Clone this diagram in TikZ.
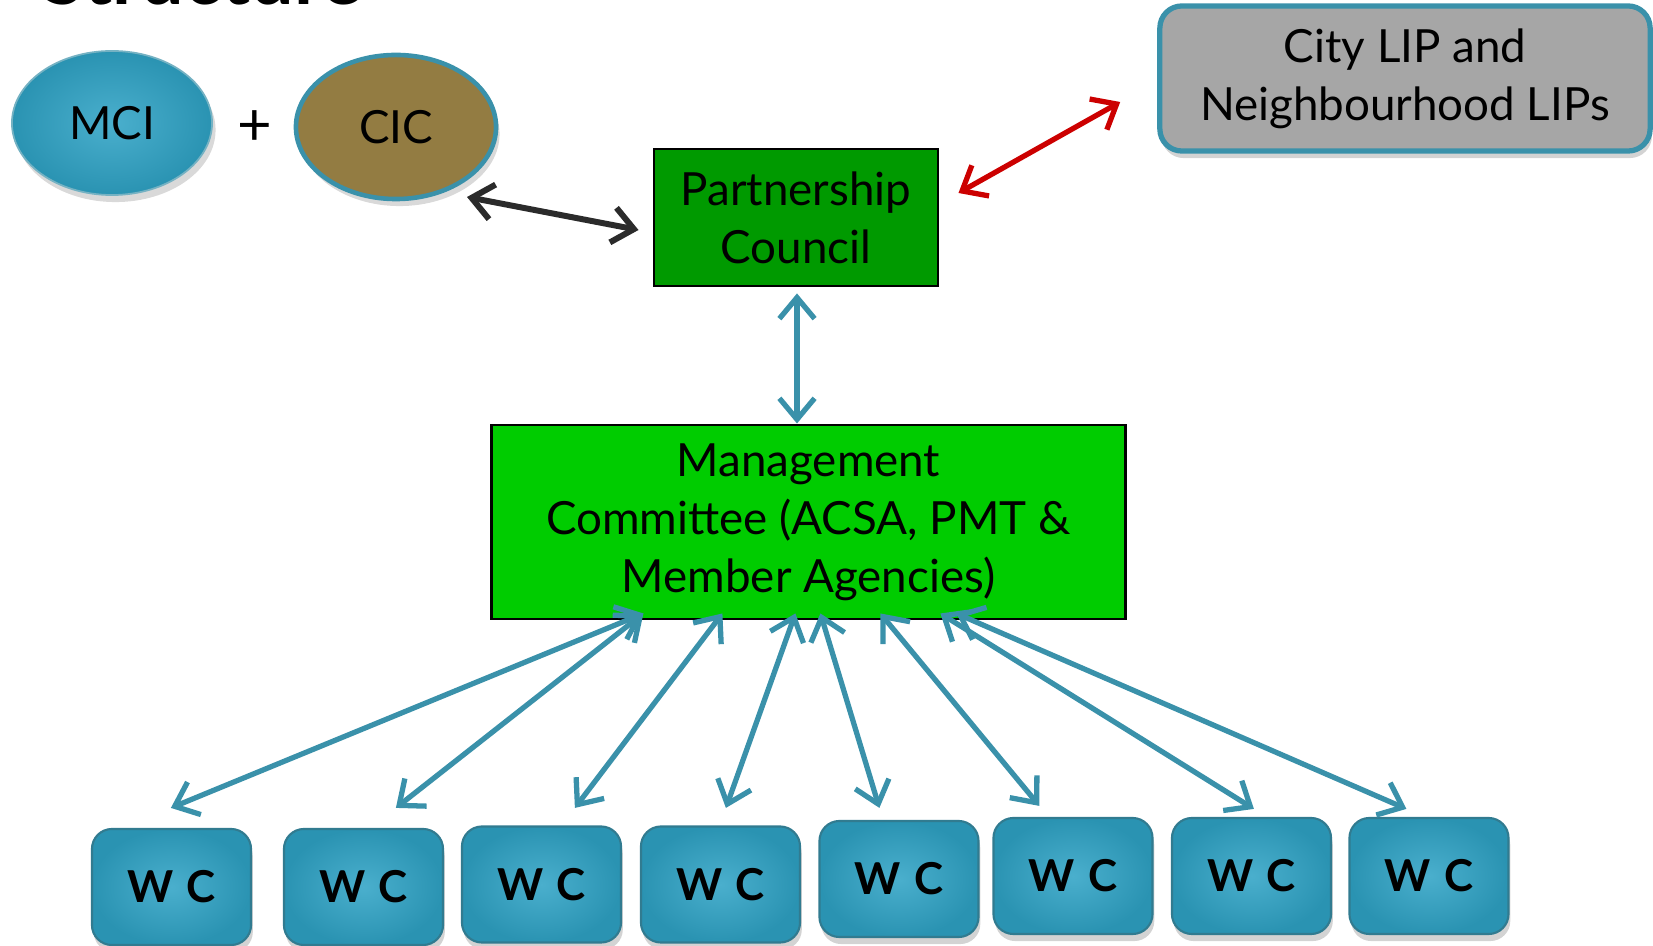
\documentclass[tikz,border=0pt]{standalone}
\usepackage{fontspec}
\setmainfont{Lato}
\usetikzlibrary{arrows.meta,shapes.geometric,shadows}

\definecolor{tealfill}{HTML}{2A93B2}
\definecolor{teallight}{HTML}{4AAFCD}
\definecolor{tealline}{HTML}{3A91AA}
\definecolor{cicbrown}{HTML}{937C42}
\definecolor{darkgreen}{HTML}{009A00}
\definecolor{brightgreen}{HTML}{00CC00}
\definecolor{lipgrey}{HTML}{A6A6A6}
\definecolor{redline}{HTML}{CC0000}
\definecolor{darkline}{HTML}{2B2B2B}

\begin{document}
\begin{tikzpicture}[x=0.01cm,y=-0.01cm,
		txt/.style={font=\fontsize{13}{16.5}\selectfont,align=center},
		oval/.style={ellipse,minimum width=2cm,minimum height=1.44cm,txt,
			drop shadow={opacity=.3,shadow xshift=1pt,shadow yshift=-2pt}},
		greenbox/.style={rectangle,draw=black,line width=0.8pt,txt},
		wc/.style={rectangle,rounded corners=0.2cm,minimum width=1.59cm,minimum height=1.16cm,
			draw=tealline!85!black,line width=0.6pt,inner color=teallight,outer color=tealfill,
			font=\fontsize{12.5}{15}\selectfont\bfseries,
			drop shadow={opacity=.35,shadow xshift=0.5pt,shadow yshift=-2pt}},
		link/.style={draw=tealline,line width=1.5pt,line cap=round,
			{Straight Barb[length=6pt,width=10pt]}-{Straight Barb[length=6pt,width=10pt]}}
	]
		\useasboundingbox (0,0) rectangle (1653,946);
		% title, cut off at the top
		\node[anchor=base west,font=\fontsize{22}{26}\selectfont\bfseries] (title) at (30,5) {Structure};
		% top row
		\node[oval,draw=tealline!70,line width=0.5pt,inner color=teallight,outer color=tealfill] (mci) at (112,123) {MCI};
		\node[txt,font=\fontsize{17}{20}\selectfont] (plus) at (255,128) {+};
		\node[oval,fill=cicbrown,draw=tealline,line width=1.3pt] (cic) at (396,127) {CIC};
		\node[greenbox,fill=darkgreen,minimum width=2.84cm,minimum height=1.37cm] (pc) at (796,217.5) {Partnership\\Council};
		\node[txt,rectangle,rounded corners=0.22cm,fill=lipgrey,draw=tealline,line width=1.5pt,
			minimum width=4.9cm,minimum height=1.45cm,
			drop shadow={opacity=.35,shadow xshift=0.5pt,shadow yshift=-2pt}] (lip) at (1405,78.5) {City LIP and\\Neighbourhood LIPs};
		\node[greenbox,fill=brightgreen,minimum width=6.33cm,minimum height=1.94cm] (mc) at (808.5,522) {Management\\Committee (ACSA, PMT \&\\Member Agencies)};
		% working committees
		\foreach \i/\x/\y in {1/171.5/887, 2/363.5/887, 3/541.5/884.5, 4/720.5/884.5, 5/899/879, 6/1073/876, 7/1251.5/876, 8/1429/876}
			{
			\node[wc] (w\i) at (\x,\y) {W\hspace{.3em}C};
			}
		% connectors
		\draw[link,draw=darkline,line width=1.7pt] ([shift={(71,70)}]cic.center) -- ([shift={(-14,12.5)}]pc.west);
		\draw[link,draw=redline] ([shift={(19,-24.5)}]pc.east) -- ([shift={(-37,23.5)}]lip.west);
		\draw[link] ([shift={(1,6)}]pc.south) -- ([shift={(-11.5,0)}]mc.north);
		\foreach \i/\a/\b/\c in {1/153/80/20, 2/153/113/20, 3/232/114/17.5, 4/305/86/17.5, 5/330/61/12, 6/390/47/11, 7/450/83/8, 8/466/58/8}
			{
			\draw[link] ([shift={(\a,-7)}]mc.south west) -- ([shift={(\b,-\c)}]w\i.north west);
			}
	\end{tikzpicture}
\end{document}
